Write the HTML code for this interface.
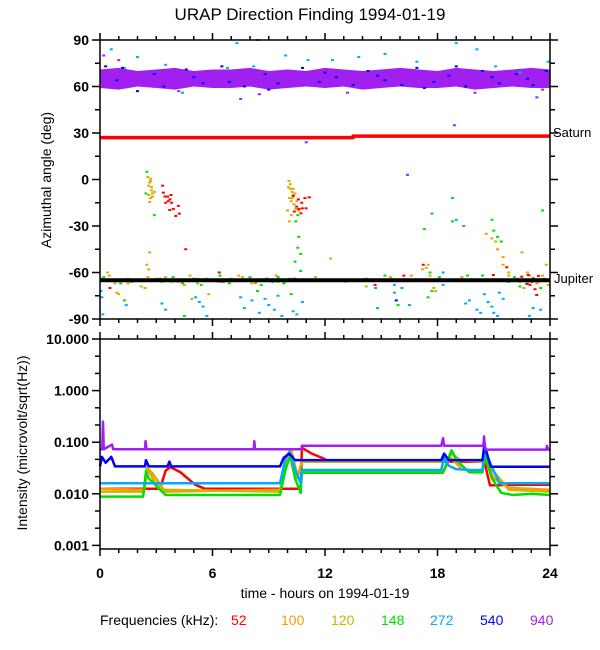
<!DOCTYPE html>
<html><head><meta charset="utf-8"><style>
html,body{margin:0;padding:0;background:#fff}
svg{display:block;font-family:"Liberation Sans",Arial,sans-serif}
</style></head><body>
<svg id="c" width="600" height="650" viewBox="0 0 600 650">
<text x="310" y="20" text-anchor="middle" font-size="17">URAP Direction Finding  1994-01-19</text>
<text transform="translate(51,180) rotate(-90)" text-anchor="middle" font-size="14">Azimuthal angle (deg)</text>
<text transform="translate(27,443) rotate(-90)" text-anchor="middle" font-size="14">Intensity (microvolt/sqrt(Hz))</text>
<text x="325" y="598" text-anchor="middle" font-size="14">time - hours on 1994-01-19</text>
<g font-size="14">
<text x="100" y="625">Frequencies (kHz):</text>
<text x="231" y="625" fill="#ff0000">52</text>
<text x="281" y="625" fill="#ff9900">100</text>
<text x="331" y="625" fill="#ccb400">120</text>
<text x="381" y="625" fill="#00e000">148</text>
<text x="430" y="625" fill="#00aaff">272</text>
<text x="480" y="625" fill="#0000ff">540</text>
<text x="530" y="625" fill="#a020f0">940</text>
</g>
</svg>
<script>
// ---- data ----
const xTicks=[0,6,12,18,24];
const degTicks=[90,60,30,0,-30,-60,-90];
const intTicks=[10,1,0.1,0.01,0.001];
const intTickLabels=["10.000","1.000","0.100","0.010","0.001"];
const bandHours=[0,1,2,3,4,5,6,7,8,9,10,11,12,13,14,15,16,17,18,19,20,21,22,23,24];
const bandLow=[59,58,60,59,58,60,59,59,60,58,59,60,59,60,58,59,60,59,59,60,58,59,60,59,59];
const bandHigh=[71,72,70,71,72,70,71,71,72,70,71,70,72,71,70,71,72,71,70,72,71,70,71,72,71];
const saturn=[[0,27],[13.5,27],[13.5,28],[24,28]];
const jupiter=[[0,-65],[24,-65]];
const ptsPurple=[[1.0,77],[0.2,80],[7.5,52],[8.5,55],[11.0,24],[16.4,3],[18.9,35],[23.3,53],[20.0,56],[4.2,57],[13.2,56],[23.6,58]];
const ptsBlue=[[0.3,73],[1.2,72],[2.0,57],[3.4,60],[4.6,71],[5.5,62],[6.5,73],[7.7,60],[8.8,68],[9.5,62],[10.8,72],[11.7,63],[12.6,66],[13.5,61],[14.3,70],[15.2,64],[16.1,61],[16.9,72],[17.8,63],[18.6,67],[19.5,60],[20.4,70],[21.3,62],[22.2,68],[23.1,61],[23.8,70],[0.9,64],[5.0,66],[9.0,58],[14.8,67],[19.0,73],[22.8,65],[15.8,-78],[2.9,68],[6.9,63],[12.0,69],[17.3,59],[20.9,66]];
const ptsRed=[[3.34,-4],[3.38,-8.5],[3.47,-11],[3.61,-11],[3.73,-12.8],[3.82,-15],[3.64,-14],[3.5,-15],[4.18,-17],[3.91,-19],[4.23,-22],[4.04,-23.5],[3.79,-10],[3.72,-19.7],[10.31,-10.6],[10.58,-12.8],[10.76,-15],[10.93,-12],[11.16,-11.5],[10.49,-17.5],[10.61,-19],[10.79,-18.6],[10.99,-18.6],[10.36,-20.7],[10.72,-21.8],[4.57,-45],[17.24,-55],[14.67,-68],[6.36,-60],[0.53,-70],[20.98,-61.6],[21.69,-56.6],[22.49,-62.7],[22.67,-65],[22.84,-61.6],[22.93,-68],[23.11,-63.8],[23.2,-70.8],[23.29,-74.5],[23.02,-66],[23.38,-62.2],[22.76,-67.4],[16.2,-62],[3.7,-65],[6.5,-66]];
const ptsOrange=[[2.7,-1],[2.75,-5],[2.8,-11],[10.15,-3],[10.3,-6],[10.4,-9],[10.5,-14],[10.6,-20],[10.25,-12],[2.65,-47],[2.55,-63],[2.4,-70],[0.5,-62],[1.5,-67],[3.2,-64],[3.8,-66],[4.5,-68],[5.2,-64],[5.8,-74],[6.6,-66],[7.4,-62],[8.1,-67],[8.9,-65],[9.4,-62],[9.9,-66],[10.3,-64],[11.5,-63],[13.1,-66],[15.5,-63],[17.4,-57],[17.6,-62],[17.8,-70],[19.3,-63],[21.2,-45],[21.5,-50],[21.8,-60],[22.3,-64],[22.6,-70],[22.9,-62],[23.4,-66],[23.7,-64],[23.9,-68],[0.9,-73],[4.9,-77]];
const ptsYellow=[[2.55,1.5],[2.7,0.5],[2.65,-2],[2.6,-4],[2.75,-7],[2.6,-10],[2.7,-12],[2.65,-14.5],[2.8,-9],[2.9,-8],[10.08,-1],[10.05,-5],[10.15,-6],[10.25,-8],[10.3,-10],[10.1,-12],[10.2,-14],[10.35,-16],[10.0,-20],[10.2,-23],[10.1,-27],[10.45,-19],[0.1,-64],[0.4,-60],[0.8,-67],[1.5,-64],[2.2,-69],[2.5,-55],[2.6,-58],[3.0,-64],[3.5,-63],[4.2,-66],[4.8,-62],[5.2,-67],[5.7,-64],[6.3,-66],[7.0,-64],[7.6,-63],[8.3,-67],[8.9,-64],[9.5,-66],[10.1,-64],[12.3,-51],[14.2,-69],[16.6,-62],[17.2,-58],[17.5,-55],[17.9,-72],[20.6,-35],[20.9,-38],[21.1,-40],[21.5,-55],[21.8,-62],[22.4,-66],[22.8,-60],[23.3,-67],[23.6,-62],[23.8,-55],[22.5,-47],[1.0,-74]];
const ptsGreen=[[2.5,5],[2.45,-9],[2.9,-23],[10.55,-23],[10.45,-27],[10.6,-37],[10.55,-44],[10.7,-48],[10.4,-53],[17.3,-32],[18.8,-27],[19.4,-30],[20.9,-26],[21.0,-33],[21.2,-37],[21.4,-40],[23.6,-20],[0.2,-63],[0.6,-65],[1.1,-67],[1.7,-66],[3.3,-66],[3.9,-63],[4.4,-67],[5.0,-64],[5.4,-68],[5.9,-65],[6.4,-62],[6.9,-67],[7.5,-65],[8.0,-63],[8.3,-66],[8.6,-68],[8.9,-64],[9.2,-66],[9.5,-63],[9.8,-67],[10.4,-64],[10.7,-59],[11.2,-65],[14.2,-64],[15.2,-62],[17.6,-60],[18.1,-63],[17.7,-72],[17.5,-76],[19.6,-62],[20.4,-62],[21.8,-66],[22.1,-63],[22.4,-69],[22.8,-67],[23.2,-65],[23.5,-70],[1.3,-78],[4.5,-88],[15.9,-81],[8.4,-72],[10.2,-74]];
const ptsLightBlue=[[0.05,-72],[0.1,-76],[0.15,-87],[1.4,-81],[3.3,-80],[3.5,-84],[5.1,-76],[5.3,-79],[5.5,-82],[5.7,-88],[7.5,-76],[7.7,-83],[8.1,-78],[8.5,-86],[8.8,-77],[9.0,-81],[9.3,-84],[9.7,-88],[9.5,-75],[10.3,-85],[10.5,-87],[10.8,-79],[14.7,-70],[14.8,-83],[15.7,-68],[15.7,-73],[16.1,-70],[16.5,-81],[17.7,-22],[18.3,-60],[18.3,-68],[18.8,-12],[19.0,-26],[19.5,-80],[19.7,-78],[20.1,-84],[20.3,-86],[20.5,-74],[20.7,-79],[20.9,-82],[21.0,-86],[21.3,-73],[21.5,-77],[21.2,-88],[22.9,-88],[23.1,-83],[23.5,-84],[0.6,84],[1.3,72],[2.0,79],[3.5,74],[4.4,56],[6.8,72],[8.2,73],[9.9,80],[11.1,77],[12.4,77],[13.8,79],[15.2,81],[16.9,76],[19.0,88],[20.1,84],[21.1,73],[22.4,69],[23.9,76],[7.3,88],[8.4,90]];
// intensity series [hour, value]
const sRed=[[0,0.0125],[3.2,0.0125],[3.5,0.028],[3.75,0.033],[4.3,0.026],[5.07,0.015],[5.6,0.0125],[10.7,0.0125],[10.77,0.078],[11.3,0.06],[12,0.047],[12.1,0.042],[20.5,0.042],[20.8,0.0146],[22.5,0.015],[24,0.015]];
const sOrange=[[0,0.0125],[2.35,0.012],[2.55,0.03],[3.0,0.015],[3.5,0.011],[9.6,0.012],[9.9,0.04],[10.2,0.07],[10.5,0.025],[10.77,0.0268],[18.3,0.0268],[18.7,0.05],[19.3,0.03],[20.4,0.027],[20.5,0.05],[21,0.02],[21.8,0.013],[24,0.012]];
const sYellow=[[0,0.011],[2.35,0.011],[2.5,0.032],[2.8,0.025],[3.4,0.012],[9.6,0.011],[9.9,0.035],[10.2,0.065],[10.5,0.02],[10.77,0.0419],[18.3,0.0419],[18.8,0.06],[19.2,0.045],[20.4,0.042],[20.5,0.07],[20.9,0.03],[21.8,0.012],[24,0.011]];
const sGreen=[[0,0.0088],[2.3,0.0088],[2.45,0.027],[2.6,0.02],[3.2,0.012],[3.5,0.0095],[9.6,0.0095],[9.9,0.03],[10.15,0.055],[10.4,0.02],[10.7,0.0104],[10.77,0.0256],[18.3,0.0256],[18.75,0.07],[19.0,0.045],[19.7,0.026],[20.4,0.026],[20.5,0.06],[20.9,0.02],[21.4,0.0104],[22,0.0095],[23,0.01],[24,0.0095]];
const sLightBlue=[[0,0.016],[9.6,0.016],[9.9,0.05],[10.1,0.065],[10.4,0.03],[10.7,0.016],[10.77,0.029],[18.2,0.029],[18.35,0.05],[18.6,0.035],[19.0,0.03],[19.7,0.029],[20.4,0.029],[20.5,0.08],[20.8,0.04],[21.3,0.016],[24,0.016]];
const sBlue=[[0,0.034],[0.1,0.052],[0.3,0.04],[0.6,0.052],[0.8,0.034],[2.4,0.034],[2.45,0.045],[2.6,0.034],[3.6,0.034],[3.7,0.042],[3.8,0.034],[9.6,0.034],[9.8,0.05],[10.1,0.06],[10.4,0.045],[10.77,0.045],[18.2,0.045],[18.35,0.06],[18.6,0.045],[20.4,0.045],[20.5,0.09],[20.7,0.05],[20.85,0.0335],[24,0.0335]];
const sPurple=[[0,0.073],[0.12,0.073],[0.16,0.25],[0.2,0.073],[0.64,0.09],[0.7,0.073],[2.4,0.073],[2.43,0.105],[2.48,0.073],[8.2,0.073],[8.23,0.105],[8.27,0.073],[10.75,0.073],[10.77,0.0855],[18.2,0.0855],[18.3,0.12],[18.35,0.0855],[20.45,0.0855],[20.48,0.13],[20.55,0.0718],[23.8,0.0718],[23.84,0.085],[23.9,0.0718],[24,0.0718]];

// ---- axes ----
const X=h=>100+h*18.75;
const Yd=d=>40+(90-d)*1.55;
const Yi=v=>339+(1-Math.log10(v))*51.6;
const svg=document.getElementById('c');
const NS='http://www.w3.org/2000/svg';
function mk(tag,attrs,parent){const e=document.createElementNS(NS,tag);for(const k in attrs)e.setAttribute(k,attrs[k]);(parent||svg).appendChild(e);return e;}

const gTop=mk('g',{});


const gBot=mk('g',{});



// band
let poly=bandHours.map((h,i)=>X(h)+','+Yd(bandHigh[i])).join(' ')+' '+bandHours.slice().reverse().map((h,j)=>X(h)+','+Yd(bandLow[bandHours.length-1-j])).join(' ');
const band=mk('polygon',{points:poly,fill:'#a020f0'},gTop);



function scatter(pts,color,name){
  const g=mk('g',{fill:color},gTop);
  
  
  pts.forEach(p=>{mk('rect',{x:X(p[0])-1.5,y:Yd(p[1])-1,width:3,height:2},g);});
}
scatter(ptsLightBlue,'#00aaff','points-272khz');
scatter(ptsYellow,'#ccb400','points-120khz');
scatter(ptsOrange,'#ff9900','points-100khz');
scatter(ptsGreen,'#00e000','points-148khz');
scatter(ptsRed,'#ff0000','points-52khz');
scatter(ptsBlue,'#0000ff','points-540khz');
scatter(ptsPurple,'#a020f0','points-940khz');

function pline(pts,yf,color,w,parent,name){
  const e=mk('polyline',{points:pts.map(p=>X(p[0])+','+yf(p[1])).join(' '),fill:'none',stroke:color,'stroke-width':w,'stroke-linejoin':'round'},parent);
  
  
}
pline(saturn,Yd,'#ff0000',3.5,gTop,'saturn-line');
pline(jupiter,Yd,'#000',4,gTop,'jupiter-line');
const sat=mk('text',{x:553,y:137,'font-size':13},gTop);sat.textContent='Saturn';


const jup=mk('text',{x:554,y:283,'font-size':13},gTop);jup.textContent='Jupiter';



pline(sRed,Yi,'#ff0000',2.5,gBot,'intensity-52khz');
pline(sOrange,Yi,'#ff9900',2.5,gBot,'intensity-100khz');
pline(sYellow,Yi,'#ccb400',2.5,gBot,'intensity-120khz');
pline(sGreen,Yi,'#00e000',2.5,gBot,'intensity-148khz');
pline(sLightBlue,Yi,'#00aaff',2.5,gBot,'intensity-272khz');
pline(sBlue,Yi,'#0000ff',2.5,gBot,'intensity-540khz');
pline(sPurple,Yi,'#a020f0',2.5,gBot,'intensity-940khz');

// frames & ticks
const ax=mk('g',{stroke:'#000','stroke-width':1.5,fill:'none'});


mk('rect',{x:100,y:40,width:450,height:279},ax);
mk('rect',{x:100,y:339,width:450,height:210},ax);
for(let h=0;h<=24;h++){
  const L=(h%6===0)?7:4,x=X(h);
  [[40,-1],[319,1],[339,-1],[549,1]].forEach(([y,s])=>mk('line',{x1:x,y1:y,x2:x,y2:y+s*L},ax));
}
for(let d=-90;d<=90;d+=15){
  const L=(d%30===0)?8:5,y=Yd(d);
  mk('line',{x1:100,y1:y,x2:100-L,y2:y},ax);mk('line',{x1:550,y1:y,x2:550+L,y2:y},ax);
}
for(let k=0;k<=12;k++){
  const y=339+k*51.6/3;if(y>549)break;const L=(k%3===0)?8:5;
  mk('line',{x1:100,y1:y,x2:100-L,y2:y},ax);mk('line',{x1:550,y1:y,x2:550+L,y2:y},ax);
}
const tl=mk('g',{'font-size':14,'font-weight':'bold'});


xTicks.forEach(h=>{const t=mk('text',{x:X(h),y:578,'text-anchor':'middle'},tl);t.textContent=h;});
degTicks.forEach(d=>{const t=mk('text',{x:89,y:Yd(d)+5,'text-anchor':'end'},tl);t.textContent=d;});
intTicks.forEach((v,i)=>{const t=mk('text',{x:89,y:Yi(v)+5,'text-anchor':'end'},tl);t.textContent=intTickLabels[i];});
</script>
</body></html>
